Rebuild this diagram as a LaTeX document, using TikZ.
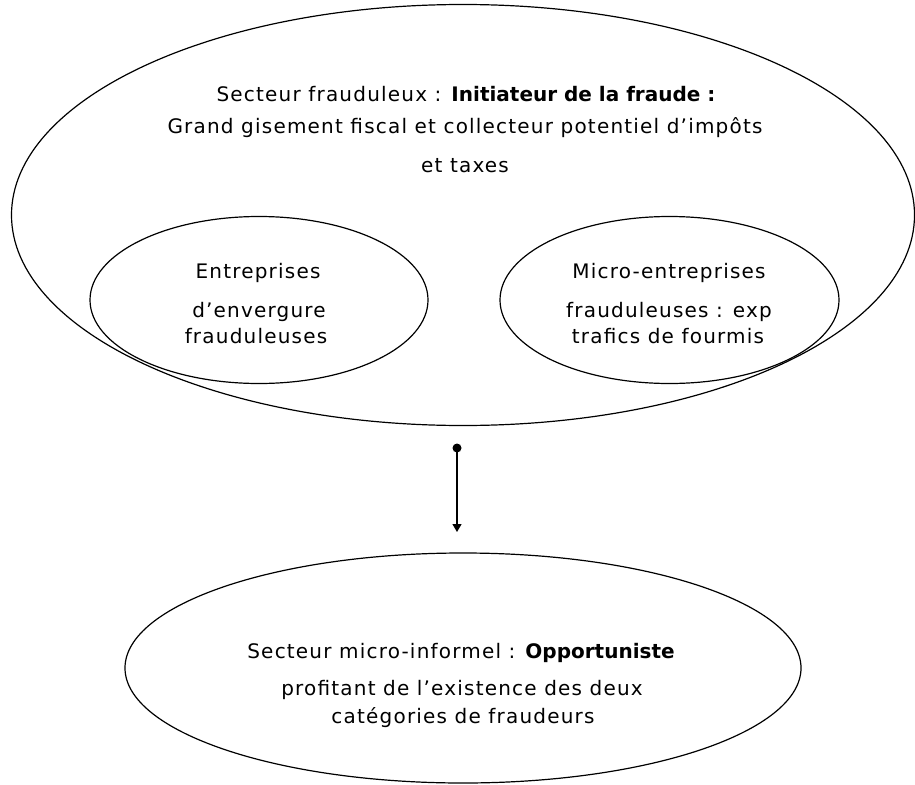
\documentclass[tikz,border=0pt]{standalone}
\usepackage{fontspec}
\setmainfont{DejaVu Sans}[LetterSpace=6]
\usetikzlibrary{shapes.geometric,arrows.meta}
\newcommand{\bfx}[1]{{\bfseries\addfontfeature{LetterSpace=0}#1}}
\begin{document}
\begin{tikzpicture}[x=1pt,y=-1pt,
  ell/.style={draw, ellipse, inner sep=0pt, line width=1.2pt},
  txt/.style={anchor=base, inner sep=0pt, font=\fontsize{20}{24}\selectfont},
  conn/.style={line width=1.3pt, -{Triangle[width=9pt,length=8pt]}}]
\useasboundingbox (0,0) rectangle (915,784);
% ellipses
\node[ell, minimum width=903pt, minimum height=421pt] (big) at (463,215) {};
\node[ell, minimum width=338pt, minimum height=167pt] (left) at (259,300) {};
\node[ell, minimum width=339pt, minimum height=167pt] (right) at (669.5,300) {};
\node[ell, minimum width=676pt, minimum height=230pt] (bottom) at (463,668) {};
% texts top
\node[txt] (t1) at (466,101) {Secteur frauduleux : \bfx{Initiateur de la fraude :}};
\node[txt] (t2) at (465,133) {Grand gisement fiscal et collecteur potentiel d’impôts};
\node[txt] (t3) at (465,172) {et taxes};
% left inner
\node[txt] (l1) at (258,278) {Entreprises};
\node[txt] (l2) at (259,317) {d’envergure};
\node[txt] (l3) at (256,343) {frauduleuses};
% right inner
\node[txt] (r1) at (669,278) {Micro-entreprises};
\node[txt] (r2) at (669,317) {frauduleuses : exp};
\node[txt] (r3) at (668,343) {trafics de fourmis};
% bottom
\node[txt] (b1) at (461,658) {Secteur micro-informel : \bfx{Opportuniste}};
\node[txt] (b2) at (462,695) {profitant de l’existence des deux};
\node[txt] (b3) at (463,723) {catégories de fraudeurs};
% arrow
\node[circle, fill=black, inner sep=0pt, minimum size=9pt] (dot) at (457,448) {};
\coordinate (tip) at (457,532);
\draw[conn] (dot.center) -- (tip);
\end{tikzpicture}
\end{document}
